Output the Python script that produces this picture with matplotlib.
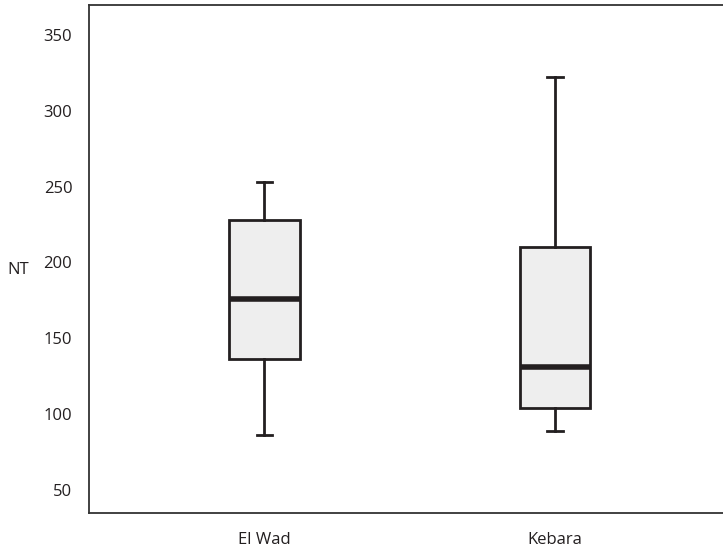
import matplotlib.pyplot as plt

# values
sites = ['El Wad', 'Kebara']
medians = [176, 131]
q1 = [136, 104]
q3 = [228, 210]
whisker_lo = [86, 89]
whisker_hi = [253, 322]
yticks = [50, 100, 150, 200, 250, 300, 350]

plt.rcParams['font.family'] = ['Open Sans', 'DejaVu Sans']

fig = plt.figure(figsize=(7.23, 5.52), dpi=100)
ax = fig.add_axes([89 / 723, 1 - 513 / 552, 1 - 89 / 723, 508 / 552])

stats = []
for i in range(len(sites)):
    stats.append({'label': sites[i], 'med': medians[i], 'q1': q1[i], 'q3': q3[i],
                  'whislo': whisker_lo[i], 'whishi': whisker_hi[i], 'fliers': []})

ax.bxp(stats, positions=[1, 2], widths=0.244, capwidths=0.052, patch_artist=True,
       showfliers=False,
       boxprops=dict(facecolor='#eeeeee', edgecolor='#231f20', linewidth=2.0),
       medianprops=dict(color='#231f20', linewidth=4),
       whiskerprops=dict(color='#231f20', linewidth=2.0),
       capprops=dict(color='#231f20', linewidth=2.0))

ax.set_xlim(0.397, 2.578)
ax.set_ylim(34.7, 369.8)
ax.set_yticks(yticks)
ax.set_xticks([1, 2])
ax.set_xticklabels(sites)
ax.tick_params(length=0, labelsize=12, colors='#231f20', pad=12)
ax.tick_params(axis='x', pad=14)
ax.spines['right'].set_visible(False)
for s in ['left', 'top', 'bottom']:
    ax.spines[s].set_linewidth(1.3)
    ax.spines[s].set_color('#333333')

fig.text(18 / 723, 1 - 270 / 552, 'NT', fontsize=12, color='#231f20',
         ha='center', va='center')

fig.savefig('out.png', dpi=100)
